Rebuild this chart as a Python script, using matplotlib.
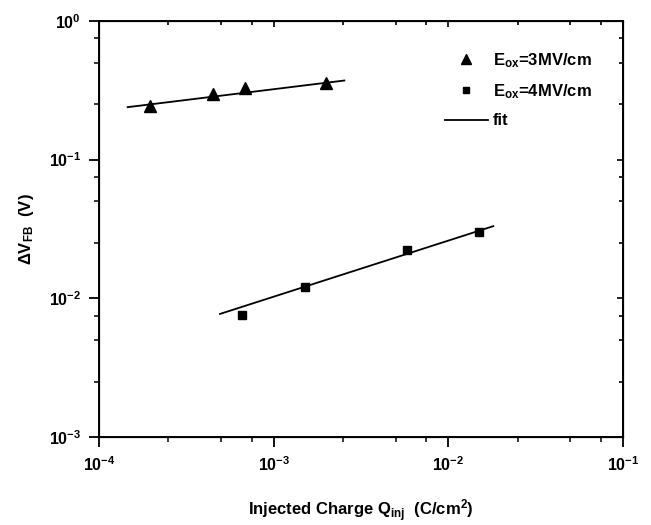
import numpy as np
import matplotlib.pyplot as plt
from matplotlib.lines import Line2D
from matplotlib.ticker import LogLocator, NullFormatter

plt.rcParams['font.family'] = 'Liberation Sans'
plt.rcParams['font.weight'] = 'bold'
plt.rcParams['mathtext.fontset'] = 'custom'
plt.rcParams['mathtext.rm'] = 'Liberation Sans:bold'
plt.rcParams['mathtext.it'] = 'Liberation Sans:bold'
plt.rcParams['mathtext.bf'] = 'Liberation Sans:bold'
plt.rcParams['mathtext.default'] = 'rm'
plt.rcParams['axes.unicode_minus'] = False

# data
q_3mv = [1.96e-4, 4.48e-4, 6.9e-4, 2.0e-3]
dv_3mv = [0.242, 0.297, 0.328, 0.356]
fit_q_3mv = [1.46e-4, 2.54e-3]
fit_dv_3mv = [0.239, 0.372]

q_4mv = [6.56e-4, 1.51e-3, 5.77e-3, 1.50e-2]
dv_4mv = [7.59e-3, 0.01213, 0.0221, 0.0302]
fit_q_4mv = [4.93e-4, 1.81e-2]
fit_dv_4mv = [7.7e-3, 0.0331]

fig = plt.figure(figsize=(6.51, 5.25), dpi=100)
ax = fig.add_axes([0.152, 0.168, 0.805, 0.792])

ax.plot(fit_q_3mv, fit_dv_3mv, color='black', lw=1.3)
ax.plot(fit_q_4mv, fit_dv_4mv, color='black', lw=1.3)
ax.plot(q_3mv, dv_3mv, '^', color='black', ms=9, ls='none')
ax.plot(q_4mv, dv_4mv, 's', color='black', ms=6, ls='none')

ax.set_xscale('log')
ax.set_yscale('log')
ax.set_xlim(1e-4, 1e-1)
ax.set_ylim(1e-3, 1e0)

for a in (ax.xaxis, ax.yaxis):
    a.set_major_locator(LogLocator(base=10))
    a.set_minor_locator(LogLocator(base=10, subs=[2.5, 5, 7.5]))
    a.set_minor_formatter(NullFormatter())
ax.tick_params(which='major', direction='out', length=7, width=1.3, labelsize=11.5, pad=6)
ax.tick_params(which='minor', direction='out', length=3.8, width=1.1)
for s in ax.spines.values():
    s.set_linewidth(1.4)

# inward ticks on top and right
topax = ax.twiny()
topax.set_xscale('log')
topax.set_xlim(ax.get_xlim())
rightax = ax.twinx()
rightax.set_yscale('log')
rightax.set_ylim(ax.get_ylim())
for a in (topax.xaxis, rightax.yaxis):
    a.set_major_locator(LogLocator(base=10))
    a.set_minor_locator(LogLocator(base=10, subs=[2.5, 5, 7.5]))
    a.set_minor_formatter(NullFormatter())
topax.tick_params(which='both', direction='in', labeltop=False, width=1.2)
topax.tick_params(which='major', length=4.5)
topax.tick_params(which='minor', length=3)
rightax.tick_params(which='both', direction='in', labelright=False, width=1.2)
rightax.tick_params(which='major', length=4.5)
rightax.tick_params(which='minor', length=3)

ax.set_xlabel(r'Injected Charge Q$_{\rm inj}$  (C/cm$^{\rm 2}$)', fontsize=12, fontweight='bold', labelpad=17)
ax.set_ylabel(r'$\Delta$V$_{\rm FB}$  (V)', fontsize=12, fontweight='bold', labelpad=9)

handles = [
    Line2D([], [], marker='^', color='black', ls='none', ms=7),
    Line2D([], [], marker='s', color='black', ls='none', ms=5),
    Line2D([], [], color='black', lw=1.3),
]
labels = [r'E$_{\rm ox}$=3MV/cm', r'E$_{\rm ox}$=4MV/cm', 'fit']
leg = ax.legend(handles, labels, loc='upper left', bbox_to_anchor=(0.66, 0.928),
                frameon=False, fontsize=12, handlelength=2.6, handletextpad=0.3,
                labelspacing=0.75, borderaxespad=0, borderpad=0)
leg.set_zorder(5)

fig.savefig('out.png', dpi=100)
